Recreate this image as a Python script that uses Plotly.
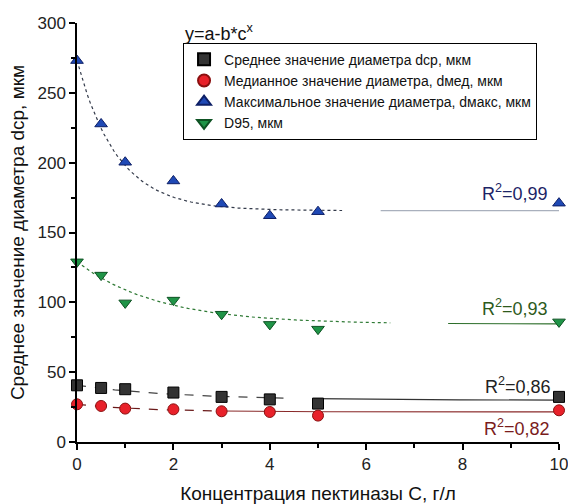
import numpy as np
import plotly.graph_objects as go

# ---- data ----
conc = [0, 0.5, 1, 2, 3, 4, 5, 10]
d_mean = [40.6, 38.7, 37.8, 35.4, 32.3, 30.5, 27.5, 32.3]
d_median = [27.0, 25.8, 23.9, 23.4, 22.0, 21.5, 18.9, 22.7]
d_max = [273.1, 227.7, 200.3, 186.9, 170.4, 162.0, 164.9, 171.0]
d_95 = [129.0, 119.5, 99.6, 101.6, 91.5, 84.2, 80.8, 86.0]

# fit parameters y = a - b*c^x (estimated from the drawn curves)
fit_mean = [29.9, -10.7, 0.63]
fit_median = [21.5, -5.5, 0.5]
fit_max = [165.6, -107.5, 0.30]
fit_95 = [84.4, -44.6, 0.55]

r2_labels = ["0,86", "0,82", "0,99", "0,93"]
names = ["Среднее значение диаметра dср, мкм",
         "Медианное значение диаметра, dмед, мкм",
         "Максимальное значение диаметра, dмакс, мкм",
         "D95, мкм"]
x_ticks = [0, 2, 4, 6, 8, 10]
y_ticks = [0, 50, 100, 150, 200, 250, 300]

FONT = "Liberation Sans, Arial, sans-serif"


def fit_curve(p, x0, x1):
    xs = np.linspace(x0, x1, 80)
    a, b, c = p
    return xs, a - b * c ** xs


fig = go.Figure()

# fit curves: dotted/dashed left part and solid right part
fit_specs = [
    (fit_max, [(0, 5.5, "dot", "#333a4a"), (6.3, 10, "solid", "#a9b0bd")]),
    (fit_95, [(0, 6.5, "dot", "#2f7a35"), (7.7, 10, "solid", "#2c6e2a")]),
    (fit_mean, [(0, 4.4, "dash", "#444444"), (4.9, 10, "solid", "#333333")]),
    (fit_median, [(0, 3.0, "dash", "#6a1a1a"), (3.0, 10, "solid", "#8a2a2a")]),
]
for p, segs in fit_specs:
    for x0, x1, dash, col in segs:
        xs, ys = fit_curve(p, x0, x1)
        fig.add_trace(go.Scatter(x=xs, y=ys, mode="lines", showlegend=False,
                                 hoverinfo="skip", cliponaxis=False,
                                 line=dict(color=col, width=1.2, dash=dash)))

series = [
    (d_mean, "square", "#333333", "#000000"),
    (d_median, "circle", "#e8212a", "#8b1010"),
    (d_max, "triangle-up", "#1f49b5", "#0d1f66"),
    (d_95, "triangle-down", "#1f9447", "#0e5223"),
]
for (vals, sym, fill, edge), nm in zip(series, names):
    fig.add_trace(go.Scatter(x=conc, y=vals, mode="markers", name=nm,
                             cliponaxis=False,
                             marker=dict(symbol=sym, size=11, color=fill,
                                         line=dict(color=edge, width=1))))

# R^2 labels
r2_pos = [(9.88, 40.6, "#222222"), (9.85, 10.5, "#7a1c1c"),
          (9.81, 179, "#1c2466"), (9.81, 96.6, "#2d5a1c")]
for lab, (xx, yy, col) in zip(r2_labels, r2_pos):
    fig.add_annotation(x=xx, y=yy, xref="x", yref="y", xanchor="right",
                       yanchor="middle", showarrow=False,
                       text="R<sup>2</sup>=" + lab,
                       font=dict(family=FONT, size=18, color=col))

fig.add_annotation(x=0.22, y=0.977, xref="paper", yref="paper",
                   xanchor="left", yanchor="middle", showarrow=False,
                   text="y=a-b*c<sup>x</sup>",
                   font=dict(family=FONT, size=18, color="#111111"))

axis_common = dict(showline=True, linecolor="#000000", linewidth=1.5,
                   ticks="outside", ticklen=6, tickwidth=1.5, tickcolor="#000",
                   showgrid=False, zeroline=False, automargin=False,
                   ticklabeloverflow="allow",
                   tickfont=dict(family=FONT, size=17, color="#222222"))

fig.update_xaxes(range=[0, 10], tickvals=x_ticks,
                 minor=dict(dtick=1, ticks="outside", ticklen=4, tickcolor="#000",
                            tickwidth=1.5),
                 title=dict(text="Концентрация пектиназы С, г/л",
                            font=dict(family=FONT, size=19, color="#111111"),
                            standoff=24),
                 **axis_common)
fig.update_yaxes(range=[0, 300], tickvals=y_ticks,
                 minor=dict(dtick=25, ticks="outside", ticklen=4, tickcolor="#000",
                            tickwidth=1.5),
                 title=dict(text="Среднее значение диаметра dср, мкм",
                            font=dict(family=FONT, size=19, color="#111111"),
                            standoff=8),
                 **axis_common)

fig.update_layout(
    width=568, height=504,
    margin=dict(l=77, r=9, t=23, b=62),
    paper_bgcolor="white", plot_bgcolor="white",
    legend=dict(x=0.22, y=0.953, xanchor="left", yanchor="top",
                bordercolor="#000000", borderwidth=1, bgcolor="white",
                font=dict(family=FONT, size=14, color="#111111"),
                tracegroupgap=0, itemsizing="constant"),
)

fig.write_html("out.html",
               config={"displayModeBar": False},
               post_script="document.body.style.margin='0';"
                           "document.body.style.overflow='hidden';")
